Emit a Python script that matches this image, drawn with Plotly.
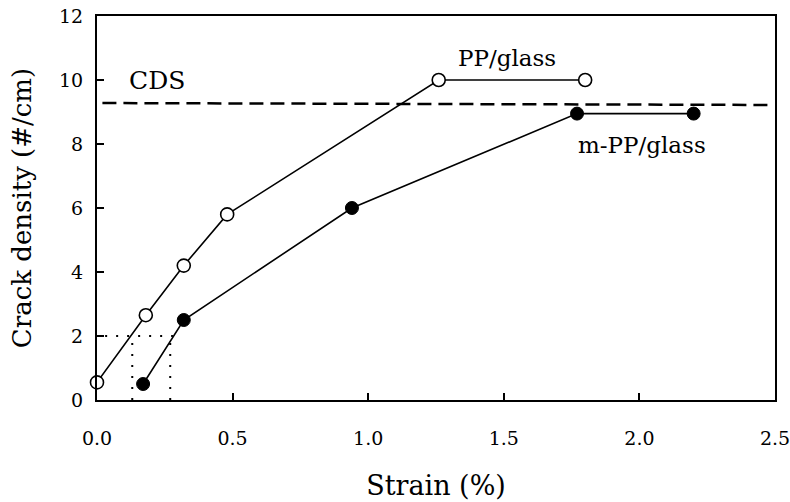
import plotly.graph_objects as go

# PP/glass (open circles)
pp_strain = [0.0, 0.18, 0.32, 0.48, 1.26, 1.80]
pp_density = [0.55, 2.65, 4.2, 5.8, 10.0, 10.0]

# m-PP/glass (filled circles)
mpp_strain = [0.17, 0.32, 0.94, 1.77, 2.20]
mpp_density = [0.5, 2.5, 6.0, 8.95, 8.95]

# CDS level
cds_x = [0.02, 2.48]
cds_y = [9.28, 9.22]

# dotted guide lines
guide_h_x = [0.03, 0.28]
guide_h_y = [2.0, 2.0]
guide_v1_x = [0.13, 0.13]
guide_v2_x = [0.27, 0.27]
guide_v_y = [0.0, 2.0]

x_ticks = [0.0, 0.5, 1.0, 1.5, 2.0, 2.5]
x_ticklabels = ["0.0", "0.5", "1.0", "1.5", "2.0", "2.5"]
y_ticks = [0, 2, 4, 6, 8, 10, 12]
y_ticklabels = ["0", "2", "4", "6", "8", "10", "12"]

FONT = "DejaVu Serif"

fig = go.Figure()

fig.add_trace(go.Scatter(x=cds_x, y=cds_y, mode="lines",
                         line=dict(color="black", width=2.5, dash="14px,7px"),
                         showlegend=False))
for gx, gy in [(guide_h_x, guide_h_y), (guide_v1_x, guide_v_y), (guide_v2_x, guide_v_y)]:
    fig.add_trace(go.Scatter(x=gx, y=gy, mode="lines",
                             line=dict(color="black", width=2, dash="2px,9px"),
                             showlegend=False))

fig.add_trace(go.Scatter(x=pp_strain, y=pp_density, mode="lines+markers",
                         line=dict(color="black", width=1.6),
                         marker=dict(symbol="circle", size=13, color="white",
                                     line=dict(color="black", width=1.6)),
                         showlegend=False, cliponaxis=False))
fig.add_trace(go.Scatter(x=mpp_strain, y=mpp_density, mode="lines+markers",
                         line=dict(color="black", width=1.6),
                         marker=dict(symbol="circle", size=13, color="black",
                                     line=dict(color="black", width=1)),
                         showlegend=False, cliponaxis=False))

fig.add_annotation(x=0.22, y=10.0, text="CDS", showarrow=False,
                   font=dict(family=FONT, size=25, color="black"))
fig.add_annotation(x=1.51, y=10.7, text="PP/glass", showarrow=False,
                   font=dict(family=FONT, size=23, color="black"))
fig.add_annotation(x=2.01, y=7.97, text="m-PP/glass", showarrow=False,
                   font=dict(family=FONT, size=23, color="black"))

fig.update_layout(
    width=790, height=502,
    margin=dict(l=97, r=15, t=16, b=102),
    paper_bgcolor="white", plot_bgcolor="white",
    font=dict(family=FONT, color="black"),
)
fig.update_xaxes(
    range=[0, 2.5], tickvals=x_ticks, ticktext=x_ticklabels,
    ticks="inside", ticklen=7, tickwidth=1.5, tickcolor="black",
    showline=True, linecolor="black", linewidth=2, mirror=True,
    showgrid=False, zeroline=False, ticklabelstandoff=20,
    automargin=False, ticklabeloverflow="allow",
    tickfont=dict(family=FONT, size=19, color="black"),
    title=dict(text="Strain (%)", font=dict(family=FONT, size=27), standoff=28),
)
fig.update_yaxes(
    range=[0, 12], tickvals=y_ticks, ticktext=y_ticklabels,
    ticks="inside", ticklen=7, tickwidth=1.5, tickcolor="black",
    showline=True, linecolor="black", linewidth=2, mirror=True,
    showgrid=False, zeroline=False, ticklabelstandoff=8,
    automargin=False, ticklabeloverflow="allow",
    tickfont=dict(family=FONT, size=19, color="black"),
    title=dict(text="Crack density (#/cm)", font=dict(family=FONT, size=26), standoff=20),
)

fig.write_html(
    "out.html",
    config={"displayModeBar": False},
    post_script="document.body.style.margin='0';document.body.style.overflow='hidden';",
)
